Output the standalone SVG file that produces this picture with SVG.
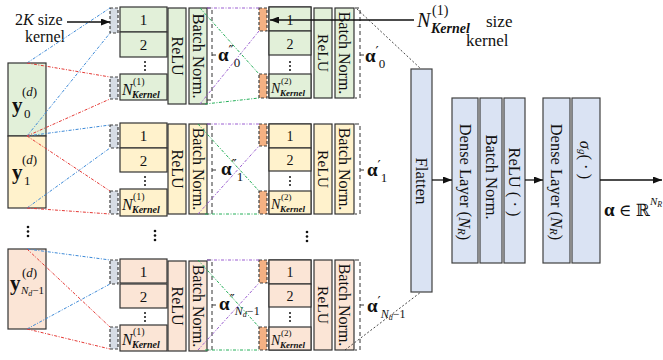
<svg xmlns="http://www.w3.org/2000/svg" width="663" height="360" viewBox="0 0 663 360">
<defs>
<marker id="ah" markerUnits="userSpaceOnUse" markerWidth="9" markerHeight="7" refX="9" refY="3.5" orient="auto"><path d="M0,0 L9,3.5 L0,7 z" fill="#111"/></marker>
<style>
.bx{stroke:#333;stroke-width:1.2}
.g{fill:#e2f0d9}.y{fill:#fff2cc}.s{fill:#fbe5d6}
.b{fill:#dae3f3;stroke:#404040;stroke-width:1.2}
.kg{fill:#d6dce5;stroke:#404040;stroke-width:1.2;stroke-dasharray:3 2}
.ko{fill:#f4b183;stroke:#404040;stroke-width:1.2;stroke-dasharray:3 2}
.br{fill:none;stroke:#333;stroke-width:1;stroke-dasharray:4 3}
.t{font-family:"Liberation Serif","Times New Roman","DejaVu Serif",serif;fill:#111}
.pr{font-family:"DejaVu Sans",sans-serif;font-size:14px;font-weight:normal}
.v{text-anchor:middle;dominant-baseline:central}
.dd{fill:none;stroke-width:1;stroke-dasharray:3 1.5 1 1.5}
.lb{stroke:#3d8ad8}.lr{stroke:#e53935}.lp{stroke:#9b5fd1}.lg{stroke:#26b05a}
.lk{fill:none;stroke:#333;stroke-width:0.9;stroke-dasharray:2 2}
.ar{stroke:#111;stroke-width:1.3;fill:none}
.dot{fill:#111}
</style>
</defs>

<!-- input column -->
<g id="y0">
<rect x="8" y="63" width="38" height="73" class="bx g"/>
<text class="t" x="12" y="112" font-size="21" font-weight="bold">y</text>
<text class="t" x="22" y="96" font-size="13">(<tspan font-style="italic">d</tspan>)</text>
<text class="t" x="24" y="118" font-size="13">0</text>
</g>
<g id="y1">
<rect x="8" y="136" width="38" height="72" class="bx y"/>
<text class="t" x="12" y="179" font-size="21" font-weight="bold">y</text>
<text class="t" x="22" y="164" font-size="13">(<tspan font-style="italic">d</tspan>)</text>
<text class="t" x="24" y="185" font-size="13">1</text>
</g>
<g id="yN">
<rect x="8" y="249" width="38" height="80" class="bx s"/>
<text class="t" x="10" y="290" font-size="21" font-weight="bold">y</text>
<text class="t" x="22" y="277" font-size="13">(<tspan font-style="italic">d</tspan>)</text>
<text class="t" x="21" y="294" font-size="11"><tspan font-style="italic">N</tspan><tspan font-size="8" font-style="italic" dy="2">d</tspan><tspan dy="-2">−1</tspan></text>
</g>
<g id="vdots">
<circle cx="28" cy="227" r="1.3" class="dot"/><circle cx="28" cy="231.5" r="1.3" class="dot"/><circle cx="28" cy="236" r="1.3" class="dot"/>
<circle cx="155" cy="231" r="1.3" class="dot"/><circle cx="155" cy="235.5" r="1.3" class="dot"/><circle cx="155" cy="240" r="1.3" class="dot"/>
<circle cx="307" cy="232" r="1.3" class="dot"/><circle cx="307" cy="236.5" r="1.3" class="dot"/><circle cx="307" cy="241" r="1.3" class="dot"/>
</g>

<!-- ROW 1 -->
<g id="r1c1">
<rect x="110" y="8" width="8" height="25" class="kg"/>
<rect x="110" y="77" width="8" height="22" class="kg"/>
<rect x="120" y="7" width="47" height="25" class="bx g"/>
<rect x="120" y="32" width="47" height="25" class="bx g"/>
<rect x="120" y="74" width="47" height="26" class="bx g"/>
<text class="t" x="143.5" y="25" font-size="15" text-anchor="middle">1</text>
<text class="t" x="143.5" y="50" font-size="15" text-anchor="middle">2</text>
<circle cx="145" cy="62" r="1" class="dot"/><circle cx="145" cy="66" r="1" class="dot"/><circle cx="145" cy="70" r="1" class="dot"/>
<text class="t" x="122" y="95" font-size="16" font-style="italic">N</text>
<text class="t" x="133" y="85" font-size="10">(1)</text>
<text class="t" x="132" y="98" font-size="10" font-style="italic" font-weight="bold">Kernel</text>
<rect x="168" y="8" width="18" height="96" class="bx g"/>
<text class="t v" transform="translate(177,56) rotate(90)" font-size="16">ReLU</text>
<rect x="189" y="8" width="18" height="96" class="bx g"/>
<text class="t v" transform="translate(198,56) rotate(90)" font-size="16.5">Batch Norm.</text>
<path d="M207,8 H212 V100 H207 M212,55 H216" class="br"/>
<text class="t" x="218" y="61" font-size="19"><tspan font-weight="bold">α</tspan><tspan class="pr" dy="-6">″</tspan><tspan font-size="13" dy="12">0</tspan></text>
</g>
<g id="r1c2">
<rect x="259" y="8" width="8" height="23" class="ko"/>
<rect x="259" y="74" width="8" height="24" class="ko"/>
<rect x="269" y="7" width="42" height="91" fill="#fff" class="bx"/>
<rect x="269" y="7" width="42" height="24" class="bx g"/>
<rect x="269" y="31" width="42" height="24" class="bx g"/>
<rect x="269" y="74" width="42" height="24" class="bx g"/>
<text class="t" x="290" y="25" font-size="14" text-anchor="middle">1</text>
<text class="t" x="290" y="49" font-size="14" text-anchor="middle">2</text>
<circle cx="290" cy="62" r="1" class="dot"/><circle cx="290" cy="66" r="1" class="dot"/><circle cx="290" cy="70" r="1" class="dot"/>
<text class="t" x="271" y="93" font-size="14" font-style="italic">N</text>
<text class="t" x="281" y="84" font-size="9">(2)</text>
<text class="t" x="280" y="96" font-size="9" font-style="italic" font-weight="bold">Kernel</text>
<rect x="314" y="8" width="18" height="90" class="bx g"/>
<text class="t v" transform="translate(323,53) rotate(90)" font-size="15.5">ReLU</text>
<rect x="335" y="8" width="19" height="90" class="bx g"/>
<text class="t v" transform="translate(344.5,53) rotate(90)" font-size="16">Batch Norm.</text>
<path d="M355,8 H360 V98 H355 M360,55 H364" class="br"/>
<text class="t" x="365" y="62" font-size="19"><tspan font-weight="bold">α</tspan><tspan class="pr" dy="-6">′</tspan><tspan font-size="13" dy="12">0</tspan></text>
</g>

<!-- ROW 2 -->
<g id="r2c1">
<rect x="110" y="125" width="8" height="23" class="kg"/>
<rect x="110" y="191" width="8" height="23" class="kg"/>
<rect x="120" y="123" width="47" height="25" class="bx y"/>
<rect x="120" y="148" width="47" height="24" class="bx y"/>
<rect x="120" y="189" width="47" height="27" class="bx y"/>
<text class="t" x="143.5" y="141" font-size="15" text-anchor="middle">1</text>
<text class="t" x="143.5" y="166" font-size="15" text-anchor="middle">2</text>
<circle cx="145" cy="177" r="1" class="dot"/><circle cx="145" cy="181" r="1" class="dot"/><circle cx="145" cy="185" r="1" class="dot"/>
<text class="t" x="122" y="210" font-size="16" font-style="italic">N</text>
<text class="t" x="133" y="200" font-size="10">(1)</text>
<text class="t" x="132" y="213" font-size="10" font-style="italic" font-weight="bold">Kernel</text>
<rect x="168" y="124" width="18" height="90" class="bx y"/>
<text class="t v" transform="translate(177,169) rotate(90)" font-size="16">ReLU</text>
<rect x="189" y="124" width="18" height="90" class="bx y"/>
<text class="t v" transform="translate(198,169) rotate(90)" font-size="16">Batch Norm.</text>
<path d="M207,124 H212 V214 H207 M212,170 H216" class="br"/>
<text class="t" x="221" y="175" font-size="19"><tspan font-weight="bold">α</tspan><tspan class="pr" dy="-6">″</tspan><tspan font-size="13" dy="12">1</tspan></text>
</g>
<g id="r2c2">
<rect x="259" y="124" width="8" height="22" class="ko"/>
<rect x="259" y="191" width="8" height="23" class="ko"/>
<rect x="269" y="124" width="42" height="90" fill="#fff" class="bx"/>
<rect x="269" y="124" width="42" height="24" class="bx y"/>
<rect x="269" y="148" width="42" height="23" class="bx y"/>
<rect x="269" y="191" width="42" height="23" class="bx y"/>
<text class="t" x="290" y="141" font-size="14" text-anchor="middle">1</text>
<text class="t" x="290" y="165" font-size="14" text-anchor="middle">2</text>
<circle cx="290" cy="177" r="1" class="dot"/><circle cx="290" cy="181" r="1" class="dot"/><circle cx="290" cy="185" r="1" class="dot"/>
<text class="t" x="271" y="209" font-size="14" font-style="italic">N</text>
<text class="t" x="281" y="200" font-size="9">(2)</text>
<text class="t" x="280" y="212" font-size="9" font-style="italic" font-weight="bold">Kernel</text>
<rect x="314" y="124" width="18" height="90" class="bx y"/>
<text class="t v" transform="translate(323,169) rotate(90)" font-size="15.5">ReLU</text>
<rect x="335" y="124" width="19" height="90" class="bx y"/>
<text class="t v" transform="translate(344.5,169) rotate(90)" font-size="16">Batch Norm.</text>
<path d="M355,124 H360 V214 H355 M360,170 H364" class="br"/>
<text class="t" x="367" y="176" font-size="19"><tspan font-weight="bold">α</tspan><tspan class="pr" dy="-6">′</tspan><tspan font-size="13" dy="12">1</tspan></text>
</g>

<!-- ROW 3 -->
<g id="r3c1">
<rect x="110" y="260" width="8" height="24" class="kg"/>
<rect x="110" y="327" width="8" height="22" class="kg"/>
<rect x="120" y="259" width="47" height="24" class="bx s"/>
<rect x="120" y="284" width="47" height="24" class="bx s"/>
<rect x="120" y="325" width="47" height="26" class="bx s"/>
<text class="t" x="143.5" y="277" font-size="15" text-anchor="middle">1</text>
<text class="t" x="143.5" y="302" font-size="15" text-anchor="middle">2</text>
<circle cx="145" cy="313" r="1" class="dot"/><circle cx="145" cy="317" r="1" class="dot"/><circle cx="145" cy="321" r="1" class="dot"/>
<text class="t" x="122" y="345" font-size="16" font-style="italic">N</text>
<text class="t" x="133" y="335" font-size="10">(1)</text>
<text class="t" x="132" y="348" font-size="10" font-style="italic" font-weight="bold">Kernel</text>
<rect x="168" y="261" width="18" height="90" class="bx s"/>
<text class="t v" transform="translate(177,306) rotate(90)" font-size="16">ReLU</text>
<rect x="189" y="261" width="18" height="90" class="bx s"/>
<text class="t v" transform="translate(198,306) rotate(90)" font-size="16">Batch Norm.</text>
<path d="M207,260 H212 V350 H207 M212,305 H216" class="br"/>
<text class="t" x="219" y="310" font-size="19"><tspan font-weight="bold">α</tspan><tspan class="pr" dy="-6">″</tspan><tspan font-size="12" font-style="italic" dy="11">N</tspan><tspan font-size="8" font-style="italic" dy="2">d</tspan><tspan font-size="12" dy="-2">−1</tspan></text>
</g>
<g id="r3c2">
<rect x="259" y="260" width="8" height="23" class="ko"/>
<rect x="259" y="327" width="8" height="23" class="ko"/>
<rect x="269" y="260" width="42" height="90" fill="#fff" class="bx"/>
<rect x="269" y="260" width="42" height="24" class="bx s"/>
<rect x="269" y="284" width="42" height="23" class="bx s"/>
<rect x="269" y="327" width="42" height="23" class="bx s"/>
<text class="t" x="290" y="277" font-size="14" text-anchor="middle">1</text>
<text class="t" x="290" y="301" font-size="14" text-anchor="middle">2</text>
<circle cx="290" cy="313" r="1" class="dot"/><circle cx="290" cy="317" r="1" class="dot"/><circle cx="290" cy="321" r="1" class="dot"/>
<text class="t" x="271" y="345" font-size="14" font-style="italic">N</text>
<text class="t" x="281" y="336" font-size="9">(2)</text>
<text class="t" x="280" y="348" font-size="9" font-style="italic" font-weight="bold">Kernel</text>
<rect x="314" y="260" width="18" height="90" class="bx s"/>
<text class="t v" transform="translate(323,305) rotate(90)" font-size="15.5">ReLU</text>
<rect x="335" y="260" width="19" height="90" class="bx s"/>
<text class="t v" transform="translate(344.5,305) rotate(90)" font-size="16">Batch Norm.</text>
<path d="M355,260 H360 V350 H355 M360,305 H364" class="br"/>
<text class="t" x="367" y="312" font-size="19"><tspan font-weight="bold">α</tspan><tspan class="pr" dy="-6">′</tspan><tspan font-size="12" font-style="italic" dy="12">N</tspan><tspan font-size="8" font-style="italic" dy="2">d</tspan><tspan font-size="12" dy="-2">−1</tspan></text>
</g>

<!-- dense part -->
<g id="flatten">
<rect x="411" y="69" width="21" height="223" class="b"/>
<text class="t v" transform="translate(421.5,181) rotate(90)" font-size="17">Flatten</text>
</g>
<g id="dense1">
<rect x="452" y="98" width="26" height="165" class="b"/>
<text class="t v" transform="translate(465,182) rotate(90)" font-size="16.5">Dense Layer (<tspan font-style="italic">N</tspan><tspan font-style="italic" font-size="11" dy="3">R</tspan><tspan dy="-3">)</tspan></text>
</g>
<g id="bn3">
<rect x="480" y="98" width="22" height="165" class="b"/>
<text class="t v" transform="translate(491,177) rotate(90)" font-size="16.5">Batch Norm.</text>
</g>
<g id="relu3">
<rect x="504" y="98" width="21" height="165" class="b"/>
<text class="t v" transform="translate(514.5,182) rotate(90)" font-size="16.5">ReLU ( · )</text>
</g>
<g id="dense2">
<rect x="543" y="98" width="27" height="165" class="b"/>
<text class="t v" transform="translate(556.5,182) rotate(90)" font-size="16.5">Dense Layer (<tspan font-style="italic">N</tspan><tspan font-style="italic" font-size="11" dy="3">R</tspan><tspan dy="-3">)</tspan></text>
</g>
<g id="sigma">
<rect x="572" y="98" width="28" height="165" class="b"/>
<text class="t v" transform="translate(586,160) rotate(90)" font-size="16.5"><tspan font-style="italic">σ</tspan><tspan font-style="italic" font-size="11" dy="3">g</tspan><tspan dy="-3">( · )</tspan></text>
</g>
<g id="labels">
<text class="t" x="15" y="25" font-size="16">2<tspan font-style="italic">K</tspan> size</text>
<text class="t" x="25" y="42" font-size="16">kernel</text>
<text class="t" x="417" y="27" font-size="20" font-style="italic">N</text>
<text class="t" x="432" y="15" font-size="14">(1)</text>
<text class="t" x="431" y="33" font-size="14" font-style="italic" font-weight="bold">Kernel</text>
<text class="t" x="486" y="27" font-size="17">size</text>
<text class="t" x="466" y="46" font-size="17">kernel</text>
<text class="t" x="604" y="216" font-size="17"><tspan font-weight="bold" font-size="19">α</tspan> ∈ ℝ</text>
<text class="t" x="650" y="205" font-size="11" font-style="italic">N<tspan font-size="8" dy="2">R</tspan></text>
</g>

<!-- connectors -->
<g id="connectors">
<g class="dd lb">
<line x1="27" y1="63" x2="110" y2="8"/><line x1="27" y1="136" x2="110" y2="33"/>
<line x1="27" y1="136" x2="110" y2="125"/><line x1="27" y1="208" x2="110" y2="148"/>
<line x1="27" y1="249" x2="110" y2="260"/><line x1="27" y1="329" x2="110" y2="284"/>
</g>
<g class="dd lr">
<line x1="27" y1="63" x2="110" y2="77"/><line x1="27" y1="136" x2="110" y2="99"/>
<line x1="27" y1="136" x2="110" y2="191"/><line x1="27" y1="208" x2="110" y2="214"/>
<line x1="27" y1="249" x2="110" y2="327"/><line x1="27" y1="329" x2="110" y2="349"/>
</g>
<g class="dd lp">
<line x1="207" y1="8" x2="259" y2="8"/><line x1="200" y1="104" x2="259" y2="31"/>
<line x1="207" y1="124" x2="259" y2="124"/><line x1="198" y1="214" x2="259" y2="146"/>
<line x1="207" y1="260" x2="259" y2="260"/><line x1="198" y1="350" x2="259" y2="283"/>
</g>
<g class="dd lg">
<line x1="200" y1="8" x2="259" y2="74"/><line x1="205" y1="104" x2="259" y2="98"/>
<line x1="198" y1="124" x2="259" y2="191"/><line x1="205" y1="214" x2="259" y2="214"/>
<line x1="198" y1="260" x2="259" y2="327"/><line x1="205" y1="350" x2="259" y2="350"/>
</g>
<line x1="357" y1="9" x2="421" y2="69" class="lk"/>
<line x1="345" y1="350" x2="421" y2="292" class="lk"/>
<line x1="67" y1="22" x2="110" y2="22" class="ar" marker-end="url(#ah)"/>
<line x1="414" y1="20" x2="270" y2="20" class="ar" marker-end="url(#ah)"/>
<line x1="432" y1="180" x2="452" y2="180" class="ar" marker-end="url(#ah)"/>
<line x1="525" y1="180" x2="543" y2="180" class="ar" marker-end="url(#ah)"/>
<line x1="600" y1="180" x2="662" y2="180" class="ar" marker-end="url(#ah)"/>
</g>
</svg>
